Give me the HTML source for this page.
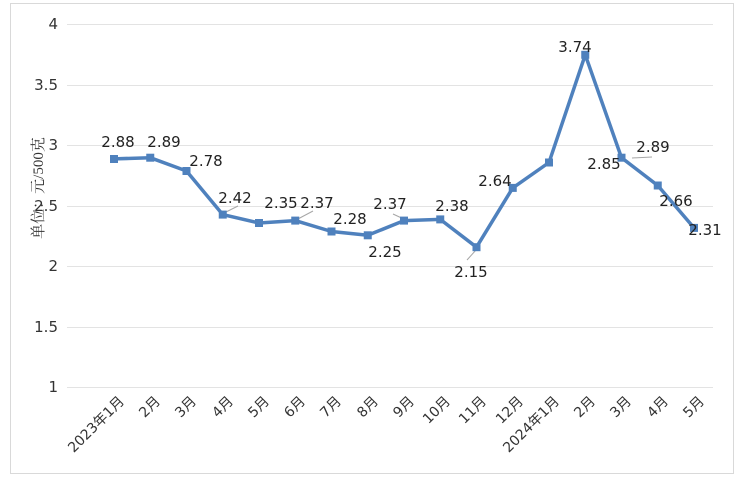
<!DOCTYPE html>
<html><head><meta charset="utf-8"><style>
html,body{margin:0;padding:0;background:#fff;width:741px;height:485px;overflow:hidden}
</style></head><body>
<svg width="741" height="485" xmlns="http://www.w3.org/2000/svg" font-family="'DejaVu Sans','Liberation Sans','Noto Sans CJK SC',sans-serif">
<rect x="10.5" y="3.5" width="723" height="470" fill="#fff" stroke="#d9d9d9"/>
<g stroke="#e3e3e3" stroke-width="1">
<line x1="67" x2="713" y1="24.5" y2="24.5"/>
<line x1="67" x2="713" y1="85.5" y2="85.5"/>
<line x1="67" x2="713" y1="145.5" y2="145.5"/>
<line x1="67" x2="713" y1="206.5" y2="206.5"/>
<line x1="67" x2="713" y1="266.5" y2="266.5"/>
<line x1="67" x2="713" y1="327.5" y2="327.5"/>
<line x1="67" x2="713" y1="387.5" y2="387.5"/>
</g>
<g font-size="15" fill="#333" text-anchor="end">
<text x="58" y="29">4</text><text x="58" y="90">3.5</text><text x="58" y="150">3</text>
<text x="58" y="211">2.5</text><text x="58" y="271">2</text><text x="58" y="332">1.5</text><text x="58" y="392">1</text>
</g>
<text transform="translate(43,188) rotate(-90)" text-anchor="middle" font-size="15" fill="#333" font-family="'Liberation Serif','Noto Serif CJK SC',serif">单位：元/500克</text>
<g stroke="#a6a6a6" stroke-width="1">
<line x1="222" y1="214" x2="238" y2="206"/>
<line x1="296" y1="220" x2="313" y2="211"/>
<line x1="393" y1="214" x2="408" y2="221"/>
<line x1="467" y1="260" x2="476" y2="250"/>
<line x1="632" y1="158" x2="652" y2="157"/>
</g>
<polyline fill="none" stroke="#4f81bd" stroke-width="3.5" stroke-linejoin="round" points="114,158.9 150.25,157.7 186.5,171 222.75,214.6 259,223 295.25,220.6 331.5,231.5 367.75,235.3 404,220.6 440.25,219.4 476.5,247.2 512.75,187.9 549,162.5 585.25,54.8 621.5,157.7 657.75,185.5 694,227.9"/>
<g fill="#4f81bd">
<rect x="110" y="155" width="8" height="8"/><rect x="146.25" y="153.7" width="8" height="8"/><rect x="182.5" y="167" width="8" height="8"/>
<rect x="218.75" y="210.6" width="8" height="8"/><rect x="255" y="219" width="8" height="8"/><rect x="291.25" y="216.6" width="8" height="8"/>
<rect x="327.5" y="227.5" width="8" height="8"/><rect x="363.75" y="231.3" width="8" height="8"/><rect x="400" y="216.6" width="8" height="8"/>
<rect x="436.25" y="215.4" width="8" height="8"/><rect x="472.5" y="243.2" width="8" height="8"/><rect x="508.75" y="183.9" width="8" height="8"/>
<rect x="545" y="158.5" width="8" height="8"/><rect x="581.25" y="50.8" width="8" height="8"/><rect x="617.5" y="153.7" width="8" height="8"/>
<rect x="653.75" y="181.5" width="8" height="8"/><rect x="690" y="223.9" width="8" height="8"/>
</g>
<g font-size="15" fill="#222" text-anchor="middle">
<text x="118" y="147">2.88</text><text x="164" y="147">2.89</text><text x="206" y="166">2.78</text>
<text x="235" y="203">2.42</text><text x="281" y="208">2.35</text><text x="317" y="208">2.37</text>
<text x="350" y="224">2.28</text><text x="385" y="257">2.25</text><text x="390" y="209">2.37</text>
<text x="452" y="211">2.38</text><text x="471" y="277">2.15</text><text x="495" y="186">2.64</text>
<text x="604" y="169">2.85</text><text x="575" y="52">3.74</text><text x="653" y="152">2.89</text>
<text x="676" y="206">2.66</text><text x="705" y="235">2.31</text>
</g>
<g font-size="14" fill="#333" text-anchor="end">
<text transform="translate(125,402) rotate(-45)">2023年1月</text>
<text transform="translate(161,402) rotate(-45)">2月</text>
<text transform="translate(197,402) rotate(-45)">3月</text>
<text transform="translate(234,402) rotate(-45)">4月</text>
<text transform="translate(270,402) rotate(-45)">5月</text>
<text transform="translate(306,402) rotate(-45)">6月</text>
<text transform="translate(342,402) rotate(-45)">7月</text>
<text transform="translate(379,402) rotate(-45)">8月</text>
<text transform="translate(415,402) rotate(-45)">9月</text>
<text transform="translate(451,402) rotate(-45)">10月</text>
<text transform="translate(487,402) rotate(-45)">11月</text>
<text transform="translate(524,402) rotate(-45)">12月</text>
<text transform="translate(560,402) rotate(-45)">2024年1月</text>
<text transform="translate(596,402) rotate(-45)">2月</text>
<text transform="translate(632,402) rotate(-45)">3月</text>
<text transform="translate(669,402) rotate(-45)">4月</text>
<text transform="translate(705,402) rotate(-45)">5月</text>
</g>
</svg>
</body></html>
